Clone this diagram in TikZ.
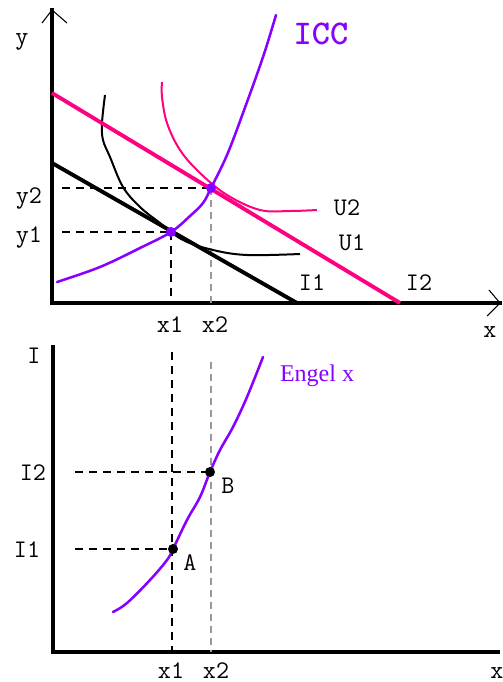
\documentclass[tikz,border=0pt]{standalone}
\usepackage{fontspec}
\newfontfamily\engelfont{Liberation Serif}
\definecolor{purp}{RGB}{136,0,255}
\definecolor{pinkc}{RGB}{255,0,128}
\begin{document}
\begin{tikzpicture}[x=0.75pt,y=-0.75pt,
  axisline/.style={line width=2.3pt,line cap=rect},
  tipline/.style={line width=0.8pt},
  lbl/.style={font=\ttfamily\fontsize{19}{19}\selectfont,anchor=base,inner sep=0pt},
  dashblack/.style={line width=0.9pt,dash pattern=on 6pt off 4.5pt},
  dashgray/.style={line width=0.9pt,dash pattern=on 5pt off 4pt,black!40},
  budget/.style={line width=2.9pt},
  indiff/.style={line width=1.5pt},
  pathcurve/.style={line width=1.9pt,purp,line cap=round},
  pdot/.style={circle,fill=purp,inner sep=0pt,minimum size=7.5pt},
  bdot/.style={circle,fill=black,inner sep=0pt,minimum size=7.5pt}]
\useasboundingbox (0,0) rectangle (503,682);
% ---------- top panel ----------
\coordinate (O1) at (52,303);
\coordinate (ytop) at (52,10);
\coordinate (xtop) at (500,303);
\coordinate (ya1) at (42,23);
\coordinate (ya2) at (67,23);
\coordinate (xa1) at (489,290);
\coordinate (xa2) at (487,316);
\draw[axisline] (ytop) -- (O1) -- (xtop);
\draw[tipline] (ya1) -- (ytop) -- (ya2);
\draw[tipline] (xa1) -- (xtop) -- (xa2);
% budget lines
\coordinate (b1s) at (52,163);
\coordinate (b1e) at (297,303);
\coordinate (b2s) at (52,93);
\coordinate (b2e) at (400,303);
% equilibrium points
\coordinate (E1) at (171,232);
\coordinate (E2) at (211,188);
% dashed guides
\coordinate (y1s) at (62,232);
\coordinate (y2s) at (62,188);
\coordinate (x1b) at (171,303);
\coordinate (x2b) at (211,303);
\draw[dashblack] (y2s) -- (E2);
\draw[dashblack] (y1s) -- (E1);
\draw[dashblack] (E1) -- (x1b);
\draw[dashgray] (E2) -- (x2b);
% indifference curves
\draw[indiff,pinkc] plot[smooth,tension=0.6] coordinates {(162,82) (162,97) (167,123) (180,150) (200,173) (227,195) (260,210) (290,211) (317,210)};
\draw[indiff,black] plot[smooth,tension=0.6] coordinates {(105,95) (102,123) (103,140) (110,157) (123,187) (140,207) (160,223) (183,240) (213,250) (247,255) (300,254)};
\draw[budget,black] (b1s) -- (b1e);
\draw[budget,pinkc] (b2s) -- (b2e);
% ICC
\draw[pathcurve] plot[smooth,tension=0.6] coordinates {(57,282) (100,267) (140,248) (171,232) (190,216) (203,203) (211,188) (227,155) (243,113) (263,57) (276,15)};
\node[pdot] (P1) at (E1) {};
\node[pdot] (P2) at (E2) {};
% labels
\node[lbl] (ly) at (22,44) {y};
\node[lbl,font=\ttfamily\bfseries\fontsize{26}{26}\selectfont,purp] (licc) at (321,44) {ICC};
\node[lbl] (ly2) at (29,203) {y2};
\node[lbl] (ly1) at (29,242) {y1};
\node[lbl] (lx1) at (170,332) {x1};
\node[lbl] (lx2) at (215,332) {x2};
\node[lbl] (lx) at (490,337) {x};
\node[lbl] (lu2) at (347,215) {U2};
\node[lbl] (lu1) at (352,250) {U1};
\node[lbl] (li1) at (312,290) {I1};
\node[lbl] (li2) at (419,290) {I2};
% ---------- bottom panel ----------
\coordinate (O2) at (53,652);
\coordinate (Itop) at (53,347);
\coordinate (xend) at (498,652);
\draw[axisline] (Itop) -- (O2) -- (xend);
\coordinate (A) at (173,549);
\coordinate (B) at (210,472);
\coordinate (i1s) at (75,549);
\coordinate (i2s) at (75,472);
\coordinate (v1t) at (172,352);
\coordinate (v1b) at (172,652);
\coordinate (v2t) at (211,362);
\coordinate (v2b) at (211,652);
\draw[dashblack] (v1t) -- (v1b);
\draw[dashgray] (v2t) -- (v2b);
\draw[dashblack] (i1s) -- (A);
\draw[dashblack] (i2s) -- (B);
\draw[pathcurve] plot[smooth,tension=0.6] coordinates {(113,612) (127,603) (150,580) (167,560) (173,549) (187,520) (200,497) (210,472) (220,450) (233,427) (247,397) (263,357)};
\node[bdot] (PA) at (A) {};
\node[bdot] (PB) at (B) {};
\node[lbl] (lI) at (34,363) {I};
\node[lbl] (lI2) at (33,480) {I2};
\node[lbl] (lI1) at (27,557) {I1};
\node[lbl] (lA) at (190,570) {A};
\node[lbl] (lB) at (228,493) {B};
\node[lbl] (lbx1) at (171,678) {x1};
\node[lbl] (lbx2) at (216,678) {x2};
\node[lbl] (lbx) at (497,678) {x};
\node[lbl,font=\engelfont\fontsize{18}{18}\selectfont,purp] (leng) at (317,381) {Engel x};
\end{tikzpicture}
\end{document}
